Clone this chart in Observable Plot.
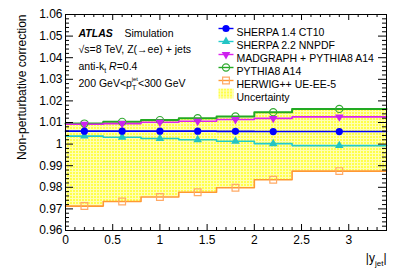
<!DOCTYPE html>
<html><head><meta charset="utf-8">
<script src="https://cdn.jsdelivr.net/npm/d3@7"></script>
<script src="https://cdn.jsdelivr.net/npm/@observablehq/plot@0.6"></script>
<style>
body{margin:0;background:#fff}
svg{font-family:"Liberation Sans",Arial,Helvetica,sans-serif}
</style>
</head><body><div id="chart"></div>
<script>
// ---- data ----
const binEdges   = [0, 0.4, 0.8, 1.2, 1.6, 2.0, 2.4, 3.4];
const binCenters = [0.2, 0.6, 1.0, 1.4, 1.8, 2.2, 2.9];
const sherpa14   = [1.0060, 1.0060, 1.0060, 1.0060, 1.0059, 1.0058, 1.0058];
const sherpa22   = [1.0037, 1.0032, 1.0026, 1.0020, 1.0013, 1.0002, 0.9993];
const madgraph   = [1.0092, 1.0095, 1.0101, 1.0106, 1.0114, 1.0119, 1.0126];
const pythia8    = [1.0095, 1.0103, 1.0111, 1.0120, 1.0128, 1.0148, 1.0163];
const herwig     = [0.9713, 0.9734, 0.9755, 0.9777, 0.9798, 0.9835, 0.9875];
const bandLow    = [0.9713, 0.9734, 0.9755, 0.9777, 0.9798, 0.9835, 0.9875];
const bandHigh   = [1.0095, 1.0103, 1.0111, 1.0120, 1.0128, 1.0148, 1.0163];
const seriesNames = ["SHERPA 1.4 CT10", "SHERPA 2.2 NNPDF", "MADGRAPH + PYTHIA8 A14", "PYTHIA8 A14", "HERWIG++ UE-EE-5"];
const bandName = "Uncertainty";
const xTicks = [0, 0.5, 1, 1.5, 2, 2.5, 3];
const xTickLabels = ["0", "0.5", "1", "1.5", "2", "2.5", "3"];
const yTicks = [0.96, 0.97, 0.98, 0.99, 1, 1.01, 1.02, 1.03, 1.04, 1.05, 1.06];
const yTickLabels = ["0.96", "0.97", "0.98", "0.99", "1", "1.01", "1.02", "1.03", "1.04", "1.05", "1.06"];
const xTitle = "|y_jet|";
const yTitle = "Non-perturbative correction";
const infoLines = ["√s=8 TeV, Z(→ee) + jets", "anti-k_t R=0.4", "200 GeV<p_T^jet<300 GeV"];

// ---- styles ----
const series = [
  {name: seriesNames[0], values: sherpa14, color: "#0000ff", symbol: "circle",   fill: "#0000ff", r: 3.6, rotate: 0, sw: 1.6, mstroke: null},
  {name: seriesNames[1], values: sherpa22, color: "#22cccc", symbol: "triangle", fill: "#22c4c4", r: 3.2, rotate: 0, sw: 1.6, mstroke: null},
  {name: seriesNames[2], values: madgraph, color: "#dd22ee", symbol: "triangle", fill: "#cc22ee", r: 3.2, rotate: 180, sw: 1.6, mstroke: null},
  {name: seriesNames[3], values: pythia8,  color: "#22aa22", symbol: "circle",   fill: "none",    r: 3.6, rotate: 0, sw: 2.0, mstroke: "#33aa33"},
  {name: seriesNames[4], values: herwig,   color: "#ff9933", symbol: "square",   fill: "none",    r: 3.8, rotate: 0, sw: 1.6, mstroke: "#ffaa66"}
];
const drawOrder = [4, 3, 2, 1, 0];

const W = 407, H = 276, ML = 65, MR = 21, MT = 14, MB = 46;
const FW = W - ML - MR, FH = H - MT - MB;

const stepPts = vals => vals.flatMap((v, i) => [{x: binEdges[i], y: v}, {x: binEdges[i + 1], y: v}]);
const bandPts = bandLow.flatMap((lo, i) => [
  {x: binEdges[i], lo, hi: bandHigh[i]},
  {x: binEdges[i + 1], lo, hi: bandHigh[i]}
]);
const xMinor = d3.range(0, 35).map(i => i / 10).filter(v => !xTicks.some(t => Math.abs(t - v) < 1e-9));
const yMinor = d3.range(0, 51).map(i => 0.96 + i * 0.002).filter(v => !yTicks.some(t => Math.abs(t - v) < 1e-9));

const lineSymbol = {draw(context) { context.moveTo(-7.5, 0); context.lineTo(7.5, 0); }};
const boxSymbol = {draw(context) { context.rect(-7.5, -5, 15, 10); }};

const marks = [];
marks.push(Plot.areaY(bandPts, {x: "x", y1: "lo", y2: "hi", fill: "url(#uncPattern)"}));
for (const k of drawOrder) {
  const s = series[k];
  marks.push(Plot.line(stepPts(s.values), {x: "x", y: "y", stroke: s.color, strokeWidth: s.sw}));
}
for (const k of drawOrder) {
  const s = series[k];
  const pts = s.values.map((v, i) => ({x: binCenters[i], y: v}));
  marks.push(Plot.dot(pts, {x: "x", y: "y", symbol: s.symbol, r: s.r, rotate: s.rotate,
    fill: s.fill, stroke: s.mstroke, strokeWidth: 1.2}));
}
// inward ticks on all four sides
const tk = {stroke: "#000", strokeWidth: 1};
marks.push(
  Plot.tickX(xTicks, {x: d => d, insetTop: FH - 6, ...tk}),
  Plot.tickX(xMinor, {x: d => d, insetTop: FH - 3, ...tk}),
  Plot.tickX(xTicks, {x: d => d, insetBottom: FH - 6, ...tk}),
  Plot.tickX(xMinor, {x: d => d, insetBottom: FH - 3, ...tk}),
  Plot.tickY(yTicks, {y: d => d, insetRight: FW - 8, ...tk}),
  Plot.tickY(yMinor, {y: d => d, insetRight: FW - 4, ...tk}),
  Plot.tickY(yTicks, {y: d => d, insetLeft: FW - 8, ...tk}),
  Plot.tickY(yMinor, {y: d => d, insetLeft: FW - 4, ...tk}),
  Plot.frame({stroke: "#000", strokeWidth: 1})
);
// tick labels
marks.push(
  Plot.text(xTicks, {x: d => d, text: (d, i) => xTickLabels[i], frameAnchor: "bottom", lineAnchor: "top", dy: 5, fontSize: 12, fill: "#000"}),
  Plot.text(yTicks, {y: d => d, text: (d, i) => yTickLabels[i], frameAnchor: "left", textAnchor: "end", dx: -3, fontSize: 12, fill: "#000"})
);
// titles
marks.push(
  Plot.text([yTitle], {text: d => d, frameAnchor: "top-left", rotate: -90, textAnchor: "end", dx: -48, dy: 0, fontSize: 12}),
  Plot.text([xTitle], {text: d => d, frameAnchor: "bottom-right", textAnchor: "end", dy: 31, dx: 0, fontSize: 12})
);
// ATLAS block
marks.push(
  Plot.text(["ATLAS"], {text: d => d, frameAnchor: "top-left", textAnchor: "start", dx: 13, dy: 15, fontSize: 10.5, fontWeight: "bold", fontStyle: "italic"}),
  Plot.text(["Simulation"], {text: d => d, frameAnchor: "top-left", textAnchor: "start", dx: 59, dy: 15, fontSize: 10.5}),
  ...infoLines.map((t, i) => Plot.text([t], {text: d => d, frameAnchor: "top-left", textAnchor: "start", dx: 13, dy: 31 + i * 17, fontSize: 10.5}))
);
// legend
series.forEach((s, i) => {
  const dy = 14 + i * 13;
  marks.push(
    Plot.dot([0], {frameAnchor: "top-left", dx: 160.5, dy, symbol: lineSymbol, fill: "none", stroke: s.color, strokeWidth: 1.4}),
    Plot.dot([0], {frameAnchor: "top-left", dx: 160.5, dy, symbol: s.symbol, r: s.r, rotate: s.rotate, fill: s.fill, stroke: s.mstroke, strokeWidth: 1.2}),
    Plot.text([s.name], {text: d => d, frameAnchor: "top-left", textAnchor: "start", dx: 171, dy, fontSize: 10.5})
  );
});
marks.push(
  Plot.dot([0], {frameAnchor: "top-left", dx: 160.5, dy: 14 + 5 * 13, symbol: boxSymbol, fill: "url(#uncPattern)"}),
  Plot.text([bandName], {text: d => d, frameAnchor: "top-left", textAnchor: "start", dx: 171, dy: 14 + 5 * 13, fontSize: 10.5})
);

const svg = Plot.plot({
  width: W, height: H,
  marginLeft: ML, marginRight: MR, marginTop: MT, marginBottom: MB,
  x: {domain: [0, 3.4], axis: null},
  y: {domain: [0.96, 1.06], axis: null},
  style: {background: "#fff", color: "#000", fontFamily: '"Liberation Sans",Arial,Helvetica,sans-serif'},
  marks
});

// pattern for the uncertainty band
d3.select(svg).insert("defs", ":first-child").html(
  '<pattern id="uncPattern" width="3" height="3" patternUnits="userSpaceOnUse">' +
  '<rect width="3" height="3" fill="#ffff4a"/>' +
  '<path d="M0 0.5H3M0.5 0V3" stroke="#ffffb4" stroke-width="1"/></pattern>');

// rich text (sub/superscripts)
const rich = {
  "|y_jet|": [["|y"], ["jet", {"font-size": 8, dy: 4}], ["|", {dy: -4}]],
  "anti-k_t R=0.4": [["anti-k"], ["t", {"font-size": 7, dy: 3}], [" ", {dy: -3}], ["R", {"font-style": "italic"}], ["=0.4"]],
  "200 GeV<p_T^jet<300 GeV": [["200 GeV<p"], ["T", {"font-size": 7, dy: 3}], ["jet", {"font-size": 6, dx: -4.5, dy: -9}], ["<300 GeV", {dy: 6}]]
};
d3.select(svg).selectAll("text").each(function () {
  const parts = rich[this.textContent];
  if (!parts) return;
  const t = d3.select(this);
  t.text(null);
  for (const [str, attrs] of parts) {
    const sp = t.append("tspan").text(str);
    if (attrs) for (const [k, v] of Object.entries(attrs)) sp.attr(k, v);
  }
});
document.getElementById("chart").appendChild(svg);
</script>
</body></html>
